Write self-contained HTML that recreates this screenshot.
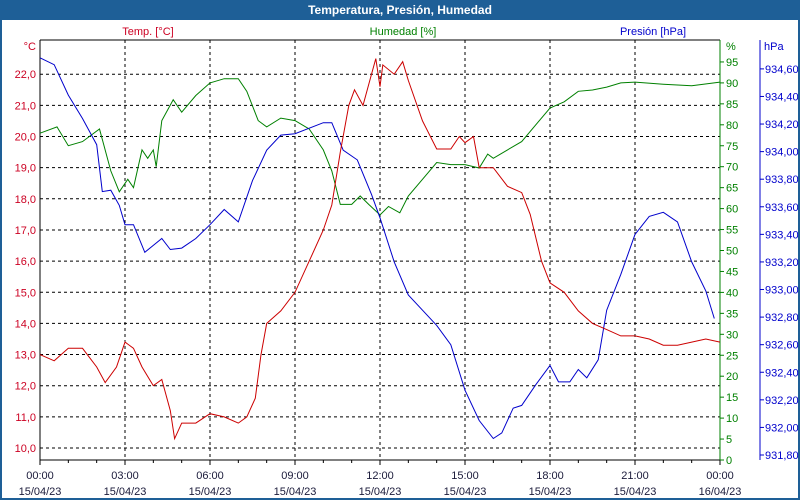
<!DOCTYPE html>
<html><head><meta charset="utf-8"><style>
body{margin:0;background:#fff}
svg{display:block;font-family:"Liberation Sans",Tahoma,sans-serif;font-size:11px}
</style></head><body>
<svg id="chart" width="800" height="500" viewBox="0 0 800 500">
<rect x="0" y="0" width="800" height="500" fill="#1e5f97"/>
<rect x="2" y="20" width="796" height="478" fill="#fff"/>
<text x="400" y="14" text-anchor="middle" fill="#fff" font-weight="bold" font-size="12">Temperatura, Presión, Humedad</text>
<text x="148" y="35" text-anchor="middle" fill="#cc0022">Temp. [°C]</text>
<text x="403" y="35" text-anchor="middle" fill="#008000">Humedad [%]</text>
<text x="653" y="35" text-anchor="middle" fill="#0000cc">Presión [hPa]</text>
<text x="36" y="50" text-anchor="end" fill="#cc0022">°C</text>
<text x="726" y="50" fill="#008000">%</text>
<text x="764" y="50" fill="#0000cc">hPa</text>
<g id="grid"></g><g id="axes"></g><g id="series"></g>
</svg>
<script>
const hours=[0,0.5,1,1.5,2,2.3,2.7,3,3.3,3.6,4,4.3,4.6,4.75,5,5.5,6,6.5,7,7.3,7.6,7.8,8,8.5,9,9.5,10,10.3,10.6,10.9,11.1,11.4,11.7,11.85,12,12.1,12.5,12.8,13,13.5,14,14.5,14.8,15,15.3,15.5,16,16.5,17,17.3,17.7,18,18.5,19,19.5,20,20.5,21,21.5,22,22.5,23,23.5,24];
const tempValues=[13.0,12.8,13.2,13.2,12.6,12.1,12.6,13.4,13.2,12.6,12.0,12.2,11.2,10.3,10.8,10.8,11.1,11.0,10.8,11.0,11.6,13.0,14.0,14.4,15.0,16.0,17.0,17.8,19.5,21.0,21.5,21.0,22.0,22.5,21.6,22.3,22.0,22.4,21.8,20.5,19.6,19.6,20.0,19.8,20.0,19.0,19.0,18.4,18.2,17.5,16.0,15.3,15.0,14.4,14.0,13.8,13.6,13.6,13.5,13.3,13.3,13.4,13.5,13.4];
const humHours=[0,0.6,1,1.5,2.1,2.5,2.8,3.1,3.3,3.6,3.8,4,4.1,4.3,4.7,5,5.5,6,6.5,7,7.3,7.7,8,8.5,9,9.5,10,10.3,10.6,11,11.3,11.6,12,12.3,12.7,13,13.5,14,14.5,15,15.5,15.8,16,16.5,17,17.5,18,18.5,19,19.5,20,20.5,21,22,23,24];
const humValues=[78,79.5,75,76,79,69,64,67,65,74,72,74,70,81,86,83,87,90,91,91,88,81,79.5,81.6,81,79,74,69,61,61,63,61,58.5,60.5,59,63,67,71,70.5,70.5,69.7,73,72,74,76,80,84,85.5,88,88.3,89,90,90.2,89.7,89.3,90.2];
const presHours=[0,0.5,1,1.5,2,2.2,2.5,2.8,3,3.3,3.7,4,4.3,4.6,5,5.5,6,6.5,7,7.5,8,8.5,9,9.5,10,10.3,10.7,11.2,11.7,12,12.5,13,13.5,14,14.5,15,15.5,16,16.3,16.7,17,17.5,18,18.3,18.7,19,19.3,19.7,20,20.5,21,21.5,22,22.5,23,23.5,23.8];
const presValues=[934.68,934.63,934.41,934.24,934.05,933.71,933.72,933.61,933.47,933.47,933.27,933.32,933.37,933.29,933.30,933.37,933.47,933.58,933.49,933.79,934.01,934.12,934.13,934.17,934.21,934.21,934.01,933.94,933.69,933.52,933.20,932.96,932.85,932.74,932.60,932.27,932.05,931.92,931.96,932.14,932.16,932.31,932.45,932.33,932.33,932.42,932.36,932.49,932.85,933.11,933.40,933.53,933.56,933.49,933.20,932.99,932.79];
const tempTicks=[10,11,12,13,14,15,16,17,18,19,20,21,22];
const humTicks=[0,5,10,15,20,25,30,35,40,45,50,55,60,65,70,75,80,85,90,95];
const presTicks=[931.8,932.0,932.2,932.4,932.6,932.8,933.0,933.2,933.4,933.6,933.8,934.0,934.2,934.4,934.6];
const timeLabels=["00:00","03:00","06:00","09:00","12:00","15:00","18:00","21:00","00:00"];
const dateLabels=["15/04/23","15/04/23","15/04/23","15/04/23","15/04/23","15/04/23","15/04/23","15/04/23","16/04/23"];

const X0=40,X1=720,Y0=40,Y1=460;
const xS=h=>X0+h*(X1-X0)/24;
const tS=v=>448-(v-10)*31.15;
const hS=v=>460-v*4.19;
const pS=v=>455-(v-931.8)*137.9;
const NS="http://www.w3.org/2000/svg";
function mk(tag,parent,attrs){const e=document.createElementNS(NS,tag);for(const k in attrs)e.setAttribute(k,attrs[k]);parent.appendChild(e);return e;}
const grid=document.getElementById('grid'),axes=document.getElementById('axes'),series=document.getElementById('series');

tempTicks.forEach(v=>{
  const y=tS(v);
  const l=mk('line',grid,{x1:X0,x2:X1,y1:y,y2:y,stroke:'#000','stroke-dasharray':'3,3'});
  
  
  const t=mk('text',axes,{x:36,y:y+4,'text-anchor':'end',fill:'#cc0022'});t.textContent=v.toFixed(1).replace('.',',');
  
  
});
for(let i=1;i<8;i++){
  const x=xS(i*3);
  const l=mk('line',grid,{x1:x,x2:x,y1:Y0,y2:Y1,stroke:'#000','stroke-dasharray':'3,3'});
  
  
}
for(let h=0;h<=24;h++){
  const x=xS(h);
  const l=mk('line',axes,{x1:x,x2:x,y1:Y1,y2:Y1+(h%3?3:5),stroke:'#000'});
  
  
}
timeLabels.forEach((s,i)=>{
  const x=xS(i*3);
  const t=mk('text',axes,{x:x,y:479,'text-anchor':'middle',fill:'#1a1a3a'});t.textContent=s;
  
  
  const d=mk('text',axes,{x:x,y:495,'text-anchor':'middle',fill:'#1a1a3a'});d.textContent=dateLabels[i];
  
  
});
humTicks.forEach(v=>{
  const y=hS(v);
  const l=mk('line',axes,{x1:X1,x2:X1+4,y1:y,y2:y,stroke:'#008000'});
  
  
  const t=mk('text',axes,{x:726,y:y+4,fill:'#008000'});t.textContent=v;
  
  
});
presTicks.forEach(v=>{
  const y=pS(v);
  const l=mk('line',axes,{x1:760,x2:764,y1:y,y2:y,stroke:'#0000cc'});
  
  
  const t=mk('text',axes,{x:765,y:y+4,fill:'#0000cc'});t.textContent=v.toFixed(2).replace('.',',');
  
  
});
let a;
a=mk('line',axes,{x1:X0,x2:X0,y1:Y0,y2:Y1,stroke:'#000'});


a=mk('line',axes,{x1:X0,x2:X1,y1:Y0,y2:Y0,stroke:'#000'});


a=mk('line',axes,{x1:X0,x2:X1,y1:Y1,y2:Y1,stroke:'#000'});


a=mk('line',axes,{x1:X1,x2:X1,y1:Y0,y2:Y1,stroke:'#008000'});


a=mk('line',axes,{x1:760,x2:760,y1:Y0,y2:Y1,stroke:'#0000cc'});



function pts(xs,vs,sc){return xs.map((h,i)=>xS(h).toFixed(1)+','+sc(vs[i]).toFixed(1)).join(' ');}
let p;
p=mk('polyline',series,{points:pts(humHours,humValues,hS),fill:'none',stroke:'#008000','stroke-width':1});


p=mk('polyline',series,{points:pts(presHours,presValues,pS),fill:'none',stroke:'#0000cc','stroke-width':1});


p=mk('polyline',series,{points:pts(hours,tempValues,tS),fill:'none',stroke:'#cc0000','stroke-width':1});


</script>
</body></html>
